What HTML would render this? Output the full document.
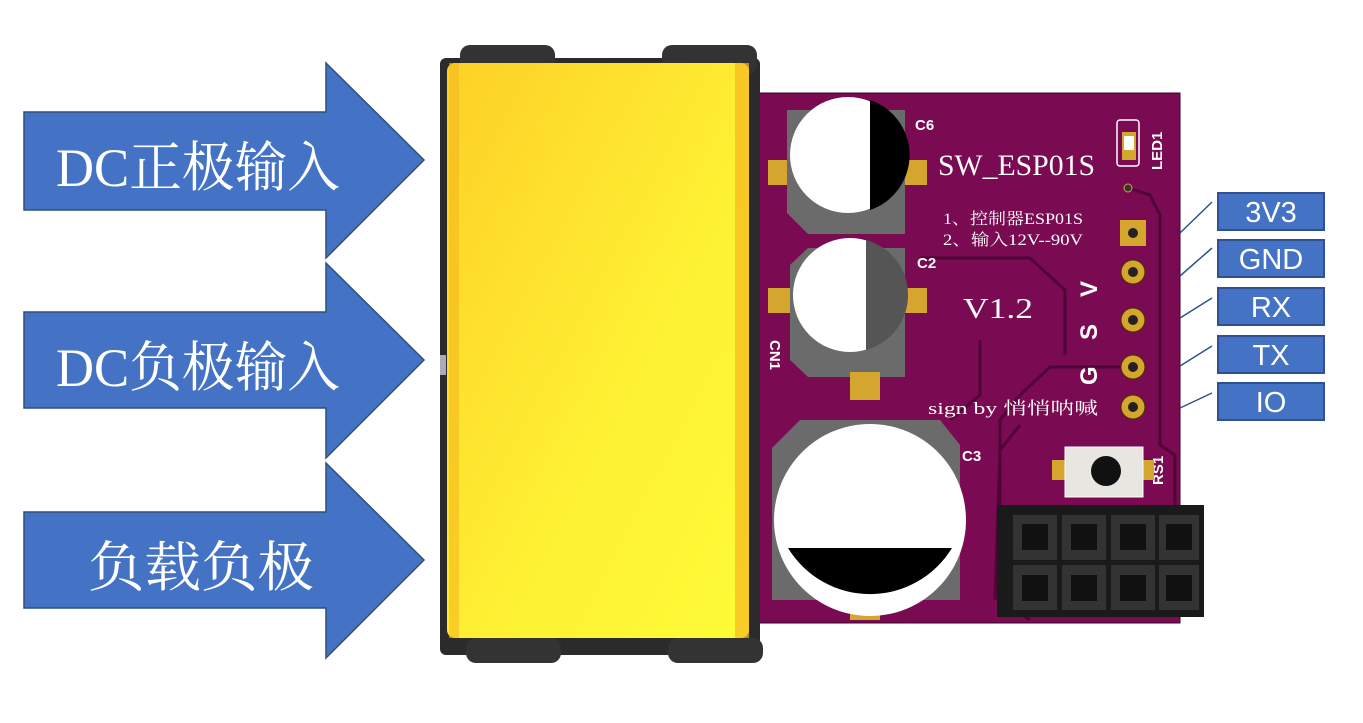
<!DOCTYPE html>
<html><head><meta charset="utf-8"><style>
html,body{margin:0;padding:0;background:#fff;}
svg{display:block}
</style></head><body>
<svg width="1363" height="723" viewBox="0 0 1363 723" xmlns="http://www.w3.org/2000/svg">
<defs>
<linearGradient id="yg" x1="0" y1="0" x2="1" y2="1">
<stop offset="0" stop-color="#fdd027"/><stop offset="0.6" stop-color="#fef234"/><stop offset="1" stop-color="#fefb36"/>
</linearGradient>
</defs>
<!-- arrows -->
<g fill="#4472C4" stroke="#2F4F7F" stroke-width="1.5">
<polygon points="24,112 326,112 326,63 424,160 326,258 326,210 24,210"/>
<polygon points="24,312 326,312 326,263 424,360 326,458 326,408 24,408"/>
<polygon points="24,512 326,512 326,463 424,560 326,658 326,608 24,608"/>
</g>
<g fill="#fff" font-family="'Liberation Serif','Noto Serif CJK SC',serif" font-size="54">
<text x="56" y="186" textLength="284" lengthAdjust="spacingAndGlyphs">DC正极输入</text>
<text x="56" y="386" textLength="284" lengthAdjust="spacingAndGlyphs">DC负极输入</text>
<text x="88" y="586" textLength="226" lengthAdjust="spacingAndGlyphs">负载负极</text>
</g>
<!-- PCB -->
<rect x="755" y="93" width="425" height="530" fill="#7a0a52" stroke="#3a0428" stroke-width="1"/>
<!-- traces -->
<g fill="none" stroke="#4f0535" stroke-width="3">
<path d="M1128,188 L1150,195 L1160,215 L1160,445 L1175,455 L1175,510"/>
<path d="M920,258 L1030,258 L1065,290 L1065,355"/>
<path d="M980,340 L980,395 L950,420"/>
<path d="M1120,367 L1050,367 L1020,395 L1000,420 L1000,600 L1030,620"/>
<path d="M1020,425 L1000,450 L995,600"/>
</g>
<!-- C6 -->
<rect x="768" y="160" width="22" height="25" fill="#d4a62e"/>
<rect x="905" y="160" width="22" height="25" fill="#d4a62e"/>
<polygon points="787,110 905,110 905,234 808,234 787,213" fill="#6b6b6b"/>
<circle cx="848" cy="155" r="58" fill="#fff"/>
<path d="M870,100 A58,58 0 0 1 870,210 Z" fill="#000"/>
<!-- C2 -->
<rect x="768" y="288" width="22" height="25" fill="#d4a62e"/>
<rect x="905" y="288" width="22" height="25" fill="#d4a62e"/>
<polygon points="808,248 905,248 905,377 808,377 790,360 790,265" fill="#6b6b6b"/>
<circle cx="850" cy="295" r="57" fill="#fff"/>
<path d="M866,240 A57,57 0 0 1 866,350 Z" fill="#555"/>
<!-- C3 -->
<rect x="850" y="372" width="30" height="28" fill="#d4a62e"/>
<rect x="850" y="598" width="30" height="22" fill="#d4a62e"/>
<polygon points="800,420 940,420 960,445 960,600 772,600 772,448" fill="#6b6b6b"/>
<circle cx="870" cy="520" r="96" fill="#fff"/>
<path d="M788,548 L952,548 A96,96 0 0 1 788,548 Z" fill="#000"/>
<!-- texts -->
<g fill="#fff" font-family="'Liberation Sans',sans-serif" font-weight="bold" font-size="15">
<text x="915" y="130">C6</text>
<text x="917" y="268">C2</text>
<text x="962" y="461">C3</text>
<text transform="translate(770,340) rotate(90)">CN1</text>
<text transform="translate(1163,485) rotate(-90)">RS1</text>
<text transform="translate(1162,170) rotate(-90)">LED1</text>
</g>
<g fill="#fff" font-family="'Liberation Sans',sans-serif" font-weight="bold" font-size="24">
<text transform="translate(1097,297) rotate(-90)">V</text>
<text transform="translate(1097,340) rotate(-90)">S</text>
<text transform="translate(1097,385) rotate(-90)">G</text>
</g>
<g fill="#fff" font-family="'Liberation Serif','Noto Serif CJK SC',serif">
<text x="938" y="175" font-size="30" textLength="157" lengthAdjust="spacingAndGlyphs">SW_ESP01S</text>
<text x="943" y="224" font-size="16" textLength="140" lengthAdjust="spacingAndGlyphs">1、控制器ESP01S</text>
<text x="943" y="245" font-size="16" textLength="140" lengthAdjust="spacingAndGlyphs">2、输入12V--90V</text>
<text x="963" y="318" font-size="28" textLength="70" lengthAdjust="spacingAndGlyphs">V1.2</text>
<text x="928" y="414" font-size="17" textLength="170" lengthAdjust="spacingAndGlyphs">sign by 悄悄呐喊</text>
</g>
<!-- LED -->
<rect x="1117" y="120" width="22" height="46" rx="3" fill="none" stroke="#fff" stroke-width="1.5"/>
<rect x="1122" y="132" width="14" height="28" fill="#d4a62e"/>
<rect x="1124" y="136" width="10" height="14" fill="#fff"/>
<circle cx="1128" cy="188" r="4" fill="#333" stroke="#d4a62e"/>
<!-- pins -->
<rect x="1120" y="220" width="26" height="26" fill="#d4a62e"/>
<circle cx="1133" cy="233" r="5" fill="#222"/>
<g fill="#d4a62e" stroke="#4a3000" stroke-width="1">
<circle cx="1133" cy="272" r="12"/><circle cx="1133" cy="320" r="12"/>
<circle cx="1133" cy="367" r="12"/><circle cx="1133" cy="407" r="12"/>
</g>
<g fill="#222"><circle cx="1133" cy="272" r="5"/><circle cx="1133" cy="320" r="5"/><circle cx="1133" cy="367" r="5"/><circle cx="1133" cy="407" r="5"/></g>
<!-- RS1 -->
<rect x="1052" y="460" width="14" height="20" fill="#d4a62e"/>
<rect x="1142" y="460" width="12" height="20" fill="#d4a62e"/>
<rect x="1065" y="447" width="78" height="50" fill="#e8e6e0" stroke="#fff"/>
<circle cx="1106" cy="471" r="15" fill="#111"/>
<!-- header -->
<rect x="997" y="505" width="207" height="112" fill="#1a1a1a"/>
<g fill="#333">
<rect x="1013" y="515" width="44" height="45"/><rect x="1062" y="515" width="44" height="45"/><rect x="1111" y="515" width="44" height="45"/><rect x="1159" y="515" width="40" height="45"/>
<rect x="1013" y="565" width="44" height="45"/><rect x="1062" y="565" width="44" height="45"/><rect x="1111" y="565" width="44" height="45"/><rect x="1159" y="565" width="40" height="45"/>
</g>
<g fill="#111">
<rect x="1022" y="524" width="26" height="26"/><rect x="1071" y="524" width="26" height="26"/><rect x="1120" y="524" width="26" height="26"/><rect x="1166" y="524" width="26" height="26"/>
<rect x="1022" y="575" width="26" height="26"/><rect x="1071" y="575" width="26" height="26"/><rect x="1120" y="575" width="26" height="26"/><rect x="1166" y="575" width="26" height="26"/>
</g>
<!-- battery holder -->
<rect x="440" y="58" width="320" height="597" rx="6" fill="#2b2b2b"/>
<rect x="460" y="45" width="95" height="30" rx="10" fill="#333"/>
<rect x="662" y="45" width="95" height="30" rx="10" fill="#333"/>
<rect x="466" y="638" width="95" height="25" rx="10" fill="#333"/>
<rect x="668" y="638" width="95" height="25" rx="10" fill="#333"/>
<rect x="447" y="63" width="302" height="575" rx="8" fill="url(#yg)"/>
<rect x="449" y="63" width="10" height="575" fill="#f5b81e" opacity="0.6"/>
<rect x="735" y="63" width="14" height="575" fill="#f5b81e" opacity="0.7"/>
<rect x="440" y="355" width="6" height="20" fill="#aab"/>
<!-- labels -->
<g stroke="#2f528f" stroke-width="1.5">
<line x1="1180" y1="233" x2="1212" y2="202"/>
<line x1="1180" y1="276" x2="1212" y2="248"/>
<line x1="1180" y1="318" x2="1212" y2="298"/>
<line x1="1180" y1="366" x2="1212" y2="346"/>
<line x1="1180" y1="408" x2="1212" y2="393"/>
</g>
<g fill="#4472C4" stroke="#2f528f" stroke-width="2">
<rect x="1218" y="193" width="106" height="37"/>
<rect x="1218" y="240" width="106" height="37"/>
<rect x="1218" y="288" width="106" height="37"/>
<rect x="1218" y="336" width="106" height="37"/>
<rect x="1218" y="383" width="106" height="37"/>
</g>
<g fill="#fff" font-family="'Liberation Sans',sans-serif" font-size="29" text-anchor="middle">
<text x="1271" y="222">3V3</text>
<text x="1271" y="269">GND</text>
<text x="1271" y="317">RX</text>
<text x="1271" y="365">TX</text>
<text x="1271" y="412">IO</text>
</g>
</svg>
</body></html>
